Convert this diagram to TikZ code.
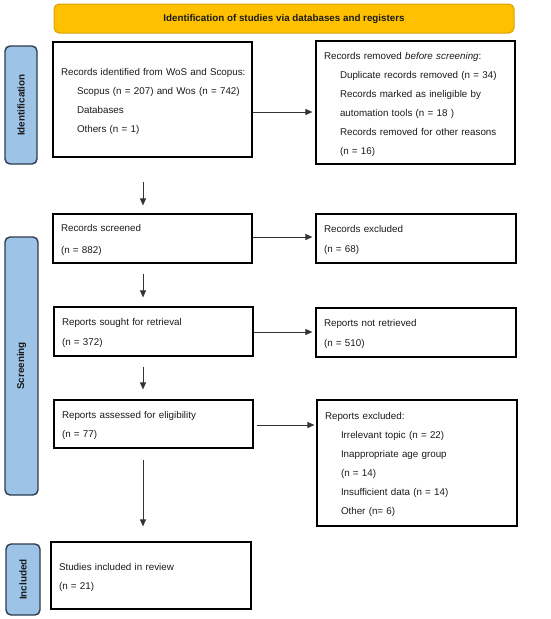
\documentclass[tikz,border=0pt]{standalone}
\usepackage{fontspec}
\setmainfont{Liberation Sans}
\usetikzlibrary{arrows.meta}
\definecolor{hdrfill}{HTML}{FFC000}
\definecolor{hdrdraw}{HTML}{D9A300}
\definecolor{sidefill}{HTML}{9DC3E6}
\definecolor{sidedraw}{HTML}{2E3B4E}
\definecolor{txt}{HTML}{1A1A1A}
\newcommand{\ind}{\hspace*{16pt}}
\begin{document}
\begin{tikzpicture}[x=1pt,y=-1pt,
  every node/.style={font=\fontsize{9.8}{19}\selectfont, text=txt},
  flowbox/.style={draw=black, line width=1.2pt, rectangle, inner xsep=8pt, inner ysep=0pt, align=left,
    execute at begin node={\rule{0pt}{11pt}}},
  sp/.style={font=\fontsize{9.8}{#1}\selectfont},
  sidebox/.style={draw=sidedraw, fill=sidefill, line width=1.4pt, rounded corners=5pt, inner sep=0pt},
  sidetext/.style={rotate=90, font=\fontsize{9.9}{12}\selectfont\bfseries},
  hdrbox/.style={draw=hdrdraw, fill=hdrfill, line width=1pt, rounded corners=5pt, inner sep=0pt,
    font=\fontsize{9.8}{12}\selectfont\bfseries},
  arr/.style={draw=black!80, line width=0.9pt, -{Triangle[length=7pt,width=6pt]}}
]
\useasboundingbox (0,0) rectangle (550,619);

% header
\node[hdrbox, minimum width=460pt, minimum height=29pt] (hdr) at (284,18.5) {Identification of studies via databases and registers};

% side labels
\node[sidebox, minimum width=32pt, minimum height=118pt] (sident) at (21,105) {};
\node[sidetext] (sidentt) at (sident.center) {Identification};
\node[sidebox, minimum width=33pt, minimum height=258pt] (sscr) at (21.5,366) {};
\node[sidetext] (sscrt) at (sscr.center) {Screening};
\node[sidebox, minimum width=34pt, minimum height=71pt] (sinc) at (23,579.5) {};
\node[sidetext] (sinct) at (sinc.center) {Included};

% boxes
\node[flowbox, text width=183pt, minimum height=115pt] (b1) at (152.5,99.5)
 {\mbox{Records identified from WoS and Scopus:}\\\mbox{\ind Scopus (n = 207) and Wos (n = 742)}\\\ind Databases\\\ind Others (n = 1)};
\node[flowbox, text width=183pt, minimum height=123pt] (r1) at (415.5,102.5)
 {Records removed \textit{before screening}:\\\mbox{\ind Duplicate records removed (n = 34)}\\\ind Records marked as ineligible by\\\ind automation tools (n = 18 )\\\mbox{\ind Records removed for other reasons}\\\ind (n = 16)};
\node[flowbox, sp=22, text width=183pt, minimum height=49pt] (b2) at (152.5,238.5)
 {Records screened\\(n = 882)};
\node[flowbox, sp=20, text width=184pt, minimum height=49pt] (r2) at (416,238.5)
 {Records excluded\\(n = 68)};
\node[flowbox, sp=20, text width=183pt, minimum height=49pt] (b3) at (153.5,331.5)
 {Reports sought for retrieval\\(n = 372)};
\node[flowbox, sp=20, text width=184pt, minimum height=49pt] (r3) at (416,332.5)
 {Reports not retrieved\\(n = 510)};
\node[flowbox, text width=183pt, minimum height=48pt] (b4) at (153.5,424)
 {Reports assessed for eligibility\\(n = 77)};
\node[flowbox, text width=184pt, minimum height=126pt] (r4) at (417,463)
 {Reports excluded:\\\ind Irrelevant topic (n = 22)\\\ind Inappropriate age group\\\ind (n = 14)\\\ind Insufficient data (n = 14)\\\ind Other (n= 6)};
\node[flowbox, text width=184pt, minimum height=67pt] (b5) at (151,575.5)
 {Studies included in review\\(n = 21)};

% arrows
\coordinate (ax) at (143,0);
\draw[arr, shorten <=24pt, shorten >=8pt] (b1.south -| ax) -- (b2.north -| ax);
\draw[arr, shorten <=10pt, shorten >=9pt] (b2.south -| ax) -- (b3.north -| ax);
\draw[arr, shorten <=10pt, shorten >=10pt] (b3.south -| ax) -- (b4.north -| ax);
\draw[arr, shorten <=11pt, shorten >=15pt] (b4.south -| ax) -- (b5.north -| ax);

\draw[arr, shorten >=3pt] ([yshift=-12.5pt]b1.east) -- ([yshift=-12.5pt]b1.east -| r1.west);
\draw[arr, shorten >=3pt] ([yshift=1.5pt]b2.east) -- ([yshift=1.5pt]b2.east -| r2.west);
\draw[arr, shorten >=3pt] ([yshift=-0.5pt]b3.east) -- ([yshift=-0.5pt]b3.east -| r3.west);
\draw[arr, shorten <=3pt, shorten >=2pt] ([yshift=-1pt]b4.east) -- ([yshift=-1pt]b4.east -| r4.west);
\end{tikzpicture}
\end{document}
